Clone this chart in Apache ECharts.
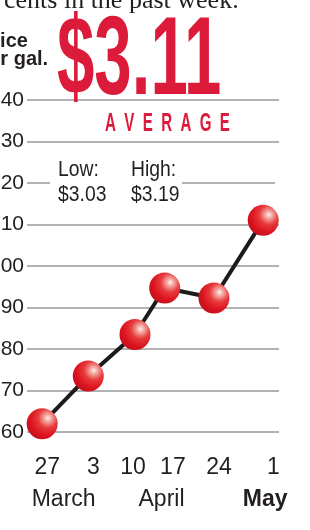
<!DOCTYPE html>
<html>
<head>
<meta charset="utf-8">
<script src="https://cdn.jsdelivr.net/npm/echarts@6/dist/echarts.min.js"></script>
<style>
  html, body { margin: 0; padding: 0; background: #fff; }
  #chart { width: 310px; height: 530px; }
</style>
</head>
<body>
<div id="chart"></div>
<script>
// days counted from March 27
const pointDays = [0, 7.3, 14.7, 19.4, 27.2, 35];
// average price per gallon
const prices = [2.62, 2.735, 2.835, 2.947, 2.923, 3.11];

// tick labels under the axis
const dayTicks = [0.8, 8.1, 14.4, 20.7, 28.0, 36.6];
const dayLabels = ["27", "3", "10", "17", "24", "1"];
const monthTicks = [3.4, 18.9, 35.3];
const monthLabels = ["March", "April", "May"];

// y axis
const yTickLabels = ["2.60", "2.70", "2.80", "2.90", "3.00", "3.10", "3.20", "3.30", "$3.40"];
const yMin = 2.6;
const yMax = 3.4;
const yStep = 0.1;

const red = "#dc1a3a";
const ink = "#231f20";

const chart = echarts.init(document.getElementById("chart"), null, { renderer: "canvas" });

const option = {
  animation: false,
  backgroundColor: "#fff",
  // labels on the left run off the page, so do not fit them in
  grid: { left: 27, right: 31, top: 100, bottom: 98, outerBoundsMode: "none", containLabel: false },
  xAxis: [
    {
      type: "value",
      min: -2.4,
      max: 37.5,
      axisLine: { show: false },
      axisTick: { show: false },
      splitLine: { show: false },
      axisLabel: {
        customValues: dayTicks,
        margin: 24,
        fontFamily: "Liberation Sans, Arial",
        fontSize: 23,
        color: ink,
        formatter: (v) => dayLabels[dayTicks.indexOf(v)],
      },
    },
    {
      type: "value",
      position: "bottom",
      min: -2.4,
      max: 37.5,
      axisLine: { show: false },
      axisTick: { show: false },
      splitLine: { show: false },
      axisLabel: {
        customValues: monthTicks,
        margin: 56,
        fontFamily: "Liberation Sans, Arial",
        fontSize: 23,
        color: ink,
        formatter: (v) => {
          const name = monthLabels[monthTicks.indexOf(v)];
          // the current month is set in bold
          return name === "May" ? "{b|" + name + "}" : name;
        },
        rich: {
          b: { fontFamily: "Liberation Sans, Arial", fontWeight: "bold", fontSize: 23, color: ink },
        },
      },
    },
  ],
  yAxis: {
    type: "value",
    min: yMin,
    max: yMax,
    interval: yStep,
    axisLine: { show: false },
    axisTick: { show: false },
    axisLabel: {
      margin: 3,
      fontFamily: "Liberation Sans, Arial",
      fontSize: 21,
      color: ink,
      formatter: (v) => yTickLabels[Math.round((v - yMin) / yStep)],
    },
    splitLine: { lineStyle: { color: "#b2b2b6", width: 2 } },
  },
  series: [
    {
      type: "line",
      xAxisIndex: 0,
      data: pointDays.map((d, i) => [d, prices[i]]),
      symbol: "circle",
      symbolSize: 31,
      lineStyle: { color: "#1b1b1b", width: 4 },
      itemStyle: {
        opacity: 1,
        // shiny red ball, highlight at upper right
        color: {
          type: "radial",
          x: 0.68,
          y: 0.32,
          r: 0.75,
          colorStops: [
            { offset: 0, color: "#fff0ec" },
            { offset: 0.15, color: "#f3aaa2" },
            { offset: 0.42, color: "#e73a3c" },
            { offset: 0.75, color: "#dc1420" },
            { offset: 1, color: "#c40f1a" },
          ],
        },
      },
      z: 5,
    },
  ],
  graphic: [
    // cut-off line of the story text above
    {
      type: "text", x: 4, y: 1, z: 100,
      style: { text: "cents in the past week.", font: "26px 'Liberation Serif', serif", fill: ink, align: "left", verticalAlign: "middle" },
    },
    // "Price per gal." is clipped at the left edge
    {
      type: "text", x: -21, y: 41, z: 100,
      style: { text: "Price", font: "bold 20px 'Liberation Sans', Arial", fill: ink, align: "left", verticalAlign: "middle" },
    },
    {
      type: "text", x: -23, y: 59, z: 100,
      style: { text: "per gal.", font: "bold 20px 'Liberation Sans', Arial", fill: ink, align: "left", verticalAlign: "middle" },
    },
    // big average
    {
      type: "text", x: 57, y: 63, z: 100, scaleX: 0.6,
      style: { text: "$3.11", font: "bold 112px 'Liberation Sans', Arial", fill: red, align: "left", verticalAlign: "middle" },
    },
    {
      type: "text", x: 105, y: 124, z: 100, scaleX: 0.58,
      style: { text: "A  V  E  R  A  G  E", font: "bold 26px 'Liberation Sans', Arial", fill: red, align: "left", verticalAlign: "middle" },
    },
    // white gap in the 3.20 line behind the low/high text
    {
      type: "rect", z: 90,
      shape: { x: 50, y: 178, width: 132, height: 8 },
      style: { fill: "#fff" },
    },
    {
      type: "rect", z: 90,
      shape: { x: 275, y: 178, width: 8, height: 8 },
      style: { fill: "#fff" },
    },
    {
      type: "text", x: 58, y: 170, z: 100, scaleX: 0.88,
      style: { text: "Low:", font: "22px 'Liberation Sans', Arial", fill: ink, align: "left", verticalAlign: "middle" },
    },
    {
      type: "text", x: 58, y: 195, z: 100, scaleX: 0.88,
      style: { text: "$3.03", font: "22px 'Liberation Sans', Arial", fill: ink, align: "left", verticalAlign: "middle" },
    },
    {
      type: "text", x: 131, y: 170, z: 100, scaleX: 0.88,
      style: { text: "High:", font: "22px 'Liberation Sans', Arial", fill: ink, align: "left", verticalAlign: "middle" },
    },
    {
      type: "text", x: 131, y: 195, z: 100, scaleX: 0.88,
      style: { text: "$3.19", font: "22px 'Liberation Sans', Arial", fill: ink, align: "left", verticalAlign: "middle" },
    },
  ],
};

chart.setOption(option);
</script>
</body>
</html>
